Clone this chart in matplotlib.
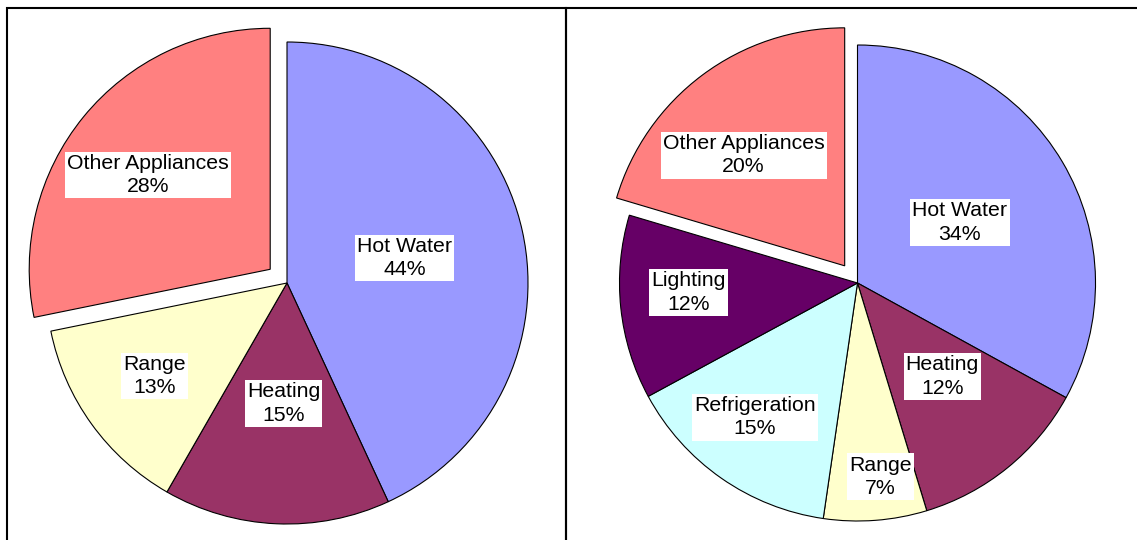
import matplotlib
matplotlib.use("Agg")
import matplotlib.pyplot as plt
from matplotlib.patches import Rectangle
import numpy as np

plt.rcParams['font.family'] = ['Liberation Sans', 'DejaVu Sans']

# data
# printed percentages
left_labels = ['Hot Water', 'Heating', 'Range', 'Other Appliances']
left_pct = [44, 15, 13, 28]
right_labels = ['Hot Water', 'Heating', 'Range', 'Refrigeration', 'Lighting', 'Other Appliances']
right_pct = [34, 12, 7, 15, 12, 20]
# wedge sizes as measured from the slice angles
left_values = [43.1, 15.2, 13.5, 28.2]
right_values = [33.0, 12.3, 7.0, 14.8, 12.5, 20.4]

colors = {
    'Hot Water': '#9999FF',
    'Heating': '#993366',
    'Range': '#FFFFCC',
    'Other Appliances': '#FF8080',
    'Refrigeration': '#CCFFFF',
    'Lighting': '#660066',
}

# label placement (fraction of radius, angle tweak in degrees)
left_lab_dist = [0.50, 0.50, 0.67, 0.64]
left_lab_dang = [-0.4, 0.9, -0.7, 1.6]
right_lab_dist = [0.50, 0.53, 0.82, 0.71, 0.71, 0.63]
right_lab_dang = [0.0, 3.2, 2.5, -2.5, -2.8, 5.7]

W, H = 1137, 540
fig = plt.figure(figsize=(W / 100, H / 100), dpi=100)
ax = fig.add_axes([0, 0, 1, 1])

# panel frames
ax.add_patch(Rectangle((7, -10), 559, H - 7.5 + 10, fill=False, lw=1.5, ec='black'))
ax.add_patch(Rectangle((566, -10), 600, H - 7.5 + 10, fill=False, lw=1.5, ec='black'))


def draw_pie(center, radius, labels, values, pcts, dists, dangs, explode_frac=0.09):
    # matplotlib takes explode in data units, so scale by the radius
    explode = [explode_frac * radius if l == 'Other Appliances' else 0 for l in labels]
    ax.pie(values, colors=[colors[l] for l in labels], explode=explode,
           startangle=90, counterclock=False, center=center, radius=radius,
           wedgeprops=dict(edgecolor='black', linewidth=0.8), frame=True)
    total = float(sum(values))
    start = 90.0
    for lab, v, p, d, da, ex in zip(labels, values, pcts, dists, dangs, explode):
        span = 360.0 * v / total
        mid = start - span / 2
        start -= span
        cx = center[0] + ex * np.cos(np.radians(mid))
        cy = center[1] + ex * np.sin(np.radians(mid))
        a = np.radians(mid + da)
        ax.text(cx + d * radius * np.cos(a), cy + d * radius * np.sin(a),
                '%s\n%d%%' % (lab, p), ha='center', va='center',
                fontsize=15.3, linespacing=1.3, color='black',
                bbox=dict(facecolor='white', edgecolor='none', pad=1.5))


draw_pie((287, 257), 241, left_labels, left_values, left_pct,
         left_lab_dist, left_lab_dang)
draw_pie((857.5, 257), 238, right_labels, right_values, right_pct,
         right_lab_dist, right_lab_dang)

ax.set_xlim(0, W)
ax.set_ylim(0, H)
ax.set_aspect('auto')
ax.axis('off')

fig.savefig('out.png', dpi=100)
